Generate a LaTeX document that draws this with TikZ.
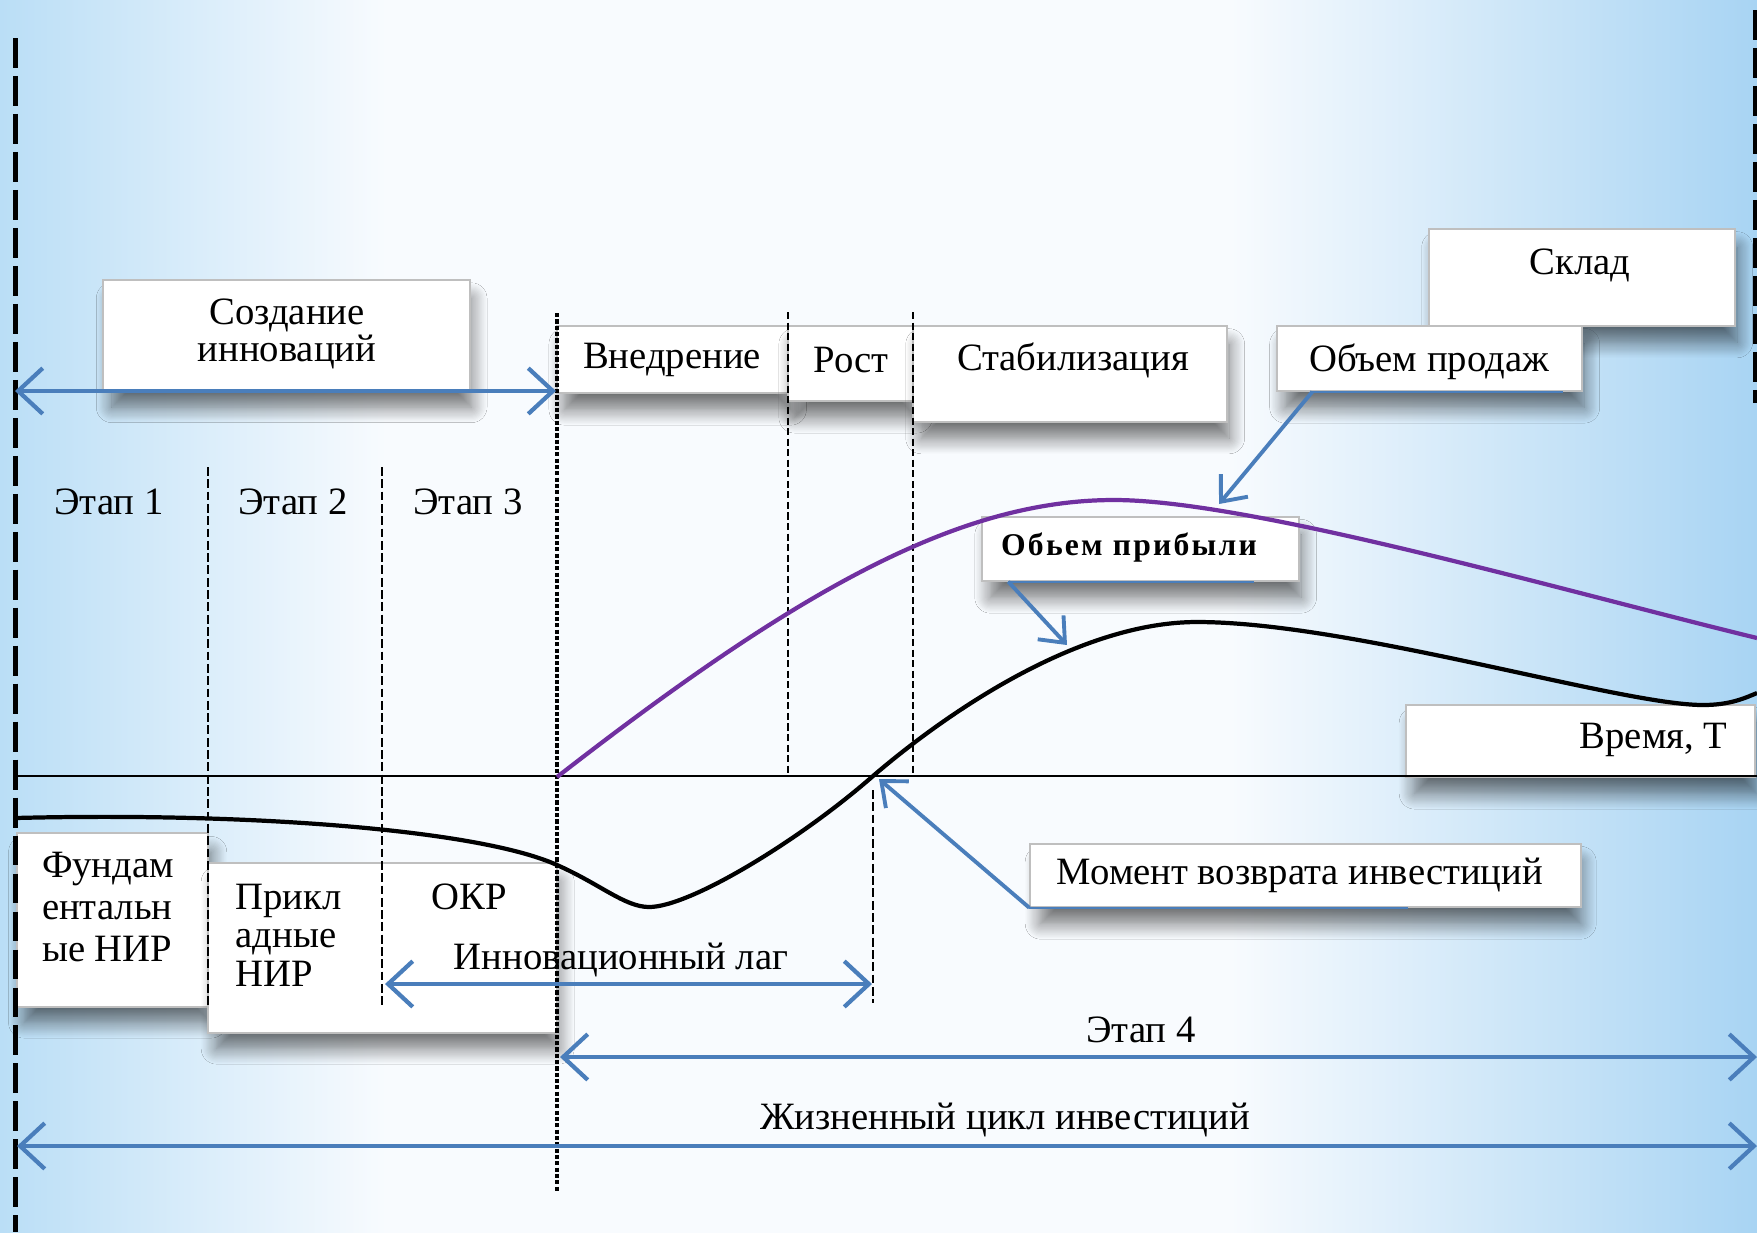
\documentclass[tikz,border=0pt]{standalone}
\usepackage{fontspec}
\setmainfont{Liberation Serif}
\usetikzlibrary{arrows.meta,fit,shadows.blur}

\definecolor{linkblue}{RGB}{74,126,187}
\definecolor{salesviolet}{RGB}{112,48,160}
\definecolor{skyleft}{RGB}{186,222,246}
\definecolor{skymid}{RGB}{248,251,254}
\definecolor{skyright}{RGB}{168,212,243}
\pgfdeclarehorizontalshading{skyback}{100bp}{color(0bp)=(skyleft); color(25bp)=(skyleft); color(36bp)=(skymid); color(60bp)=(skymid); color(75bp)=(skyright); color(100bp)=(skyright)}

\tikzset{
  panel/.style={draw=black!25, fill=white, line width=0.4pt, inner sep=0pt,
    blur shadow={shadow xshift=1.5pt, shadow yshift=-5pt, shadow scale=0.98, shadow blur radius=4.5pt, shadow blur steps=14, shadow opacity=55}},
  caption/.style={font=\fontsize{11}{12}\selectfont, inner sep=0pt},
  span/.style={draw=linkblue, line width=1.2pt, {Straight Barb[length=7pt,width=13pt]}-{Straight Barb[length=7pt,width=13pt]}},
  pointer/.style={draw=linkblue, line width=1.1pt, -{Straight Barb[length=6pt,width=10pt]}},
  underline/.style={draw=linkblue, line width=0.6pt},
  frameline/.style={line width=1.5pt, dash pattern=on 8.5pt off 2.3pt},
  gateline/.style={line width=0.9pt, dash pattern=on 1.2pt off 0.6pt},
  phaseline/.style={line width=0.8pt, dash pattern=on 2pt off 1pt},
  stageline/.style={line width=0.45pt, dash pattern=on 2.5pt off 1pt},
}

\begin{document}
\begin{tikzpicture}[x=0.01cm, y=-0.01cm]
  \useasboundingbox (0,0) rectangle (1757,1232);
  \shade[shading=skyback] (0,0) rectangle (1757,1232);

  %%%%% boxes %%%%%
  \node[panel, fit={(103,280) (470,391)}] (createbox) {};
  \node[panel, fit={(557,326) (788,393)}] (introbox) {};
  \node[panel, fit={(788,326) (913,401)}] (growthbox) {};
  \node[panel, fit={(913,326) (1227,422)}] (stabbox) {};
  \node[panel, fit={(1429,229) (1735,326)}] (stockbox) {};
  \node[panel, fit={(1277,326) (1582,391)}] (salesbox) {};
  \node[panel, fit={(982,517) (1299,581)}] (profitbox) {};
  \node[panel, fit={(1406,705) (1755,777)}] (timebox) {};
  \node[panel, fit={(1030,844) (1581,907)}] (returnbox) {};
  \node[panel, fit={(17,833) (208,1007)}] (fundbox) {};
  \node[panel, fit={(208,863) (557,1033)}] (appliedbox) {};

  %%%%% texts %%%%%
  \node[caption, align=center, font=\fontsize{11}{10.6}\selectfont] (createtxt) at (287,334) {Создание\\инноваций};
  \node[caption] (introtxt) at (672,360) {Внедрение};
  \node[caption] (growthtxt) at (851,360) {Рост};
  \node[caption] (stabtxt) at (1073,360) {Стабилизация};
  \node[caption] (stocktxt) at (1580,265) {Склад};
  \node[caption] (salestxt) at (1429,362) {Объем продаж};
  \node[caption, font=\fontsize{9}{11}\selectfont\bfseries\addfontfeatures{LetterSpace=7}] (profittxt) at (1129,548) {Обьем прибыли};
  \node[caption, anchor=east] (timetxt) at (1728,740) {Время, Т};
  \node[caption] (returntxt) at (1300,875) {Момент возврата инвестиций};
  \node[caption, align=left, font=\fontsize{11}{11.9}\selectfont] (fundtxt) at (108,907) {Фундам\\ентальн\\ые НИР};
  \node[caption, align=left, anchor=west, font=\fontsize{11}{10.9}\selectfont] (appliedtxt) at (235,935) {Прикл\\адные\\НИР};
  \node[caption] (okrtxt) at (469,897) {ОКР};
  \node[caption] (stage1) at (109,502) {Этап 1};
  \node[caption] (stage2) at (293,502) {Этап 2};
  \node[caption] (stage3) at (468,502) {Этап 3};
  \node[caption] (stage4) at (1141,1030) {Этап 4};
  \node[caption] (lagtxt) at (621,960) {Инновационный лаг};
  \node[caption] (lifetxt) at (1005,1120) {Жизненный цикл инвестиций};

  %%%%% frame and dividers %%%%%
  \draw[frameline] (15.7,38) -- (15.7,1232);
  \draw[frameline] (1756,10) -- (1756,403);
  \draw[gateline] (557,313) -- (557,1192);
  \draw[phaseline] (788,312) -- (788,776);
  \draw[phaseline] (913,312) -- (913,776);
  \draw[stageline] (208,467) -- (208,1005);
  \draw[stageline] (382,467) -- (382,1005);
  \draw[stageline] (873,790) -- (873,1003);
  \draw[line width=0.7pt] (15,776) -- (1757,776);

  %%%%% curves %%%%%
  \draw[salesviolet, line width=1.2pt] (557,777)
    .. controls (800,588) and (960,500) .. (1114,500)
    .. controls (1250,500) and (1560,590) .. (1757,638);
  \draw[line width=1.2pt] (15,818)
    .. controls (250,812) and (480,830) .. (557,865)
    .. controls (600,884) and (625,907) .. (649,907)
    .. controls (690,907) and (800,840) .. (873,776)
    .. controls (950,710) and (1080,622) .. (1197,622)
    .. controls (1350,622) and (1620,705) .. (1703,705)
    .. controls (1730,705) and (1745,698) .. (1757,693);

  %%%%% spans %%%%%
  \coordinate (createL) at (15,391);
  \coordinate (createR) at (556,391);
  \coordinate (lagL) at (385,984);
  \coordinate (lagR) at (872,984);
  \coordinate (stage4L) at (560,1057);
  \coordinate (stage4R) at (1757,1057);
  \coordinate (lifeL) at (17,1146);
  \coordinate (lifeR) at (1757,1146);
  \draw[span] (createL) -- (createR);
  \draw[span] (lagL) -- (lagR);
  \draw[span] (stage4L) -- (stage4R);
  \draw[span] (lifeL) -- (lifeR);

  %%%%% pointers %%%%%
  \coordinate (salespt) at (1219,504);
  \coordinate (profitpt) at (1067,645);
  \coordinate (returnpt) at (879,779);
  \draw[underline] ([xshift=-0.2cm]salesbox.south east) -- ([xshift=0.36cm]salesbox.south west);
  \draw[pointer] ([xshift=0.36cm]salesbox.south west) -- (salespt);
  \draw[underline] ([xshift=-0.46cm]profitbox.south east) -- ([xshift=0.27cm]profitbox.south west);
  \draw[pointer] ([xshift=0.27cm]profitbox.south west) -- (profitpt);
  \draw[underline] ([xshift=-1.74cm]returnbox.south east) -- (returnbox.south west);
  \draw[pointer] (returnbox.south west) -- (returnpt);
\end{tikzpicture}
\end{document}
